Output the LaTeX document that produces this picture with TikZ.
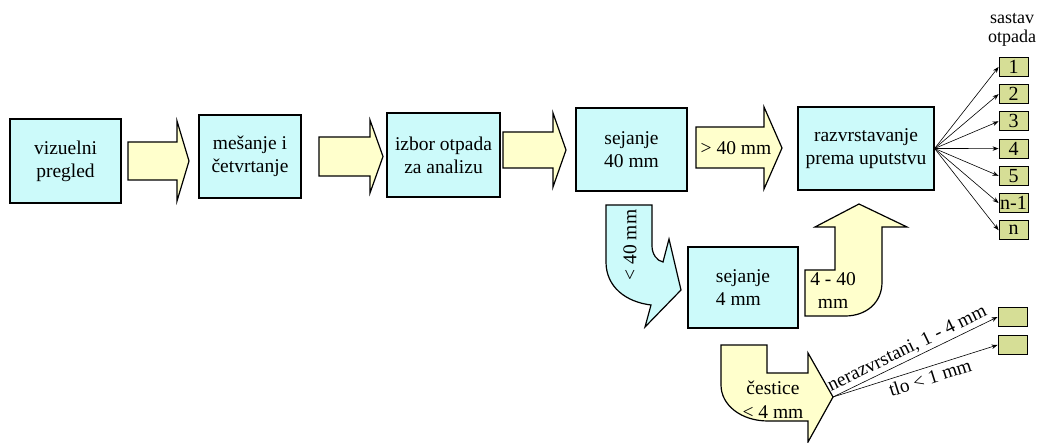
\documentclass[tikz,border=0pt]{standalone}
\usepackage{fontspec}
\setmainfont{Liberation Serif}
\usetikzlibrary{arrows.meta}
\definecolor{cyanf}{RGB}{204,250,250}
\definecolor{yelf}{RGB}{255,255,204}
\definecolor{grnf}{RGB}{214,222,150}
\newcommand\fsz[2]{\fontsize{#1}{#2}\selectfont}
\begin{document}
\begin{tikzpicture}[x=1pt,y=-1pt,
  box/.style={draw, line width=1.2pt, fill=cyanf, inner sep=0pt, align=center, font=\fsz{19.5}{23}},
  barrow/.style={draw, line width=1.2pt, fill=yelf, line join=miter},
  sbox/.style={draw, line width=0.9pt, fill=grnf, minimum width=29pt, minimum height=19pt, inner sep=0pt, font=\fsz{20}{20}},
  fan/.style={-{Stealth[length=6pt,width=4.5pt]}, line width=0.6pt},
  lbl/.style={inner sep=0pt, align=center, font=\fsz{19.5}{23}},
  slbl/.style={inner sep=0pt, font=\fsz{19.3}{19.3}}]
\useasboundingbox (0,0) rectangle (1038,443);

% main boxes
\node[box, minimum width=111pt, minimum height=84pt] (b1) at (65.5,161) {vizuelni\\pregled};
\node[box, minimum width=102pt, minimum height=83pt] (b2) at (250,156.5) {mešanje i\\četvrtanje};
\node[box, minimum width=113pt, minimum height=84pt] (b3) at (443.5,155) {izbor otpada\\za analizu};
\node[box, minimum width=111pt, minimum height=83pt] (b4) at (631.5,149.5) {sejanje\\40 mm};
\node[box, minimum width=136pt, minimum height=83pt] (b5) at (866,148.5) {razvrstavanje\\prema uputstvu};
\node[box, minimum width=110pt, minimum height=81pt, align=left] (b6) at (743,287.5) {sejanje\\4 mm};

% straight block arrows
\draw[barrow] (128,142) -- (177,142) -- (177,121) -- (189,161) -- (177,201) -- (177,180) -- (128,180) -- cycle;
\draw[barrow] (319,137) -- (370,137) -- (370,120) -- (383,156.5) -- (370,193) -- (370,176) -- (319,176) -- cycle;
\draw[barrow] (503,132) -- (553,132) -- (553,113) -- (566,150) -- (553,187) -- (553,168) -- (503,168) -- cycle;
\draw[barrow] (696,127) -- (764,127) -- (764,107) -- (782,148) -- (764,189) -- (764,168) -- (696,168) -- cycle;
\node[lbl] (t4) at (736,148) {> 40 mm};

% curved arrow < 40 mm
\draw[barrow, fill=cyanf] (606,205) -- (606,262) .. controls (606,287) and (626,302) .. (651,305)
  -- (645,327) -- (681,290) -- (669,239) -- (663,262)
  .. controls (657,261) and (652,254) .. (652,246) -- (652,205) -- cycle;
\node[lbl, rotate=90] (t40) at (630,245) {< 40 mm};

% curved arrow 4 - 40 mm
\draw[barrow] (805,316) -- (805,270) -- (835,270) -- (835,227) -- (815,227) -- (859,204)
  -- (907,227) -- (882,227) -- (882,282) .. controls (882,303) and (866,316) .. (845,316) -- cycle;
\node[lbl] (t440) at (833,291) {4 - 40\\mm};

% curved arrow cestice
\draw[barrow] (721,345) -- (767,345) -- (767,373) -- (808,373) -- (808,353) -- (833,397)
  -- (808,442) -- (808,421) -- (768,421) .. controls (741,421) and (721,405) .. (721,385) -- cycle;
\node[lbl, align=center, font=\fsz{19.5}{24}] (tc) at (773,400) {čestice\\< 4 mm};
\coordinate (ctip) at (833,397);

% sastav otpada
\node[inner sep=0pt, align=center, font=\fsz{18}{19.5}] (so) at (1012,30) {sastav\\otpada};
\node[sbox] (s1) at (1013.5,67) {1};
\node[sbox] (s2) at (1013.5,94.2) {2};
\node[sbox] (s3) at (1013.5,121.4) {3};
\node[sbox] (s4) at (1013.5,148.6) {4};
\node[sbox] (s5) at (1013.5,175.8) {5};
\node[sbox] (s6) at (1013.5,203) {n-1};
\node[sbox] (s7) at (1013.5,230.2) {n};
\foreach \i in {1,...,7} \draw[fan] (b5.east) -- (s\i.west);

% bottom boxes
\node[sbox] (g1) at (1012.5,317) {};
\node[sbox] (g2) at (1012.5,345) {};
\draw[fan] (ctip) -- (g1.west) node[slbl, pos=0.48, sloped, above=2.5pt] {nerazvrstani, 1 - 4 mm};
\draw[fan] (ctip) -- (g2.west) node[slbl, pos=0.57, sloped, below=3.5pt] {tlo < 1 mm};
\end{tikzpicture}
\end{document}
